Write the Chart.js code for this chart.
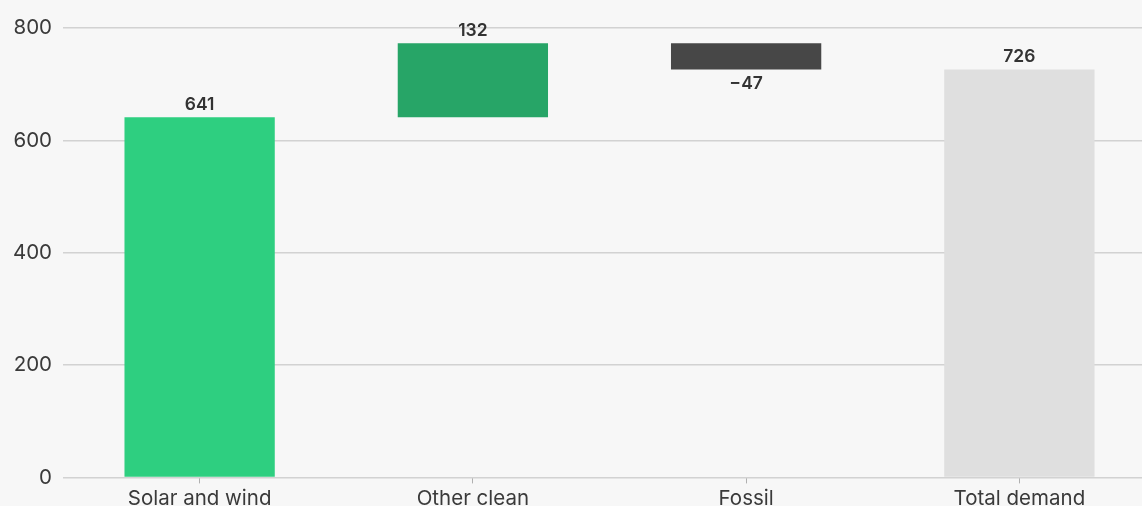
<!DOCTYPE html>
<html>
<head>
<meta charset="utf-8">
<script src="https://cdn.jsdelivr.net/npm/chart.js@4.4.1/dist/chart.umd.min.js"></script>
<style>
html,body{margin:0;padding:0;background:#f7f7f7;overflow:hidden;}
#wrap{position:absolute;left:0;top:0;width:1160px;height:514px;}
</style>
</head>
<body>
<div id="wrap"><canvas id="c" width="1160" height="514"></canvas></div>
<script>
const categories = ["Solar and wind", "Other clean", "Fossil", "Total demand"];
const changes = [641, 132, -47, 726];
const bases = [0, 641, 773, 0];
const barColors = ["#2ecf80", "#27a567", "#474747", "#dfdfdf"];
const yTicks = [0, 200, 400, 600, 800];

const ranges = changes.map((v, i) => [bases[i], bases[i] + v]);
const FONT = "Inter, 'Open Sans', sans-serif";

const labelPlugin = {
  id: 'valueLabels',
  afterDatasetsDraw(chart) {
    const ctx = chart.ctx;
    const meta = chart.getDatasetMeta(0);
    const y = chart.scales.y;
    ctx.save();
    ctx.font = "600 17.5px " + FONT;
    ctx.fillStyle = "#333333";
    ctx.textAlign = "center";
    meta.data.forEach((bar, i) => {
      const v = changes[i];
      const top = y.getPixelForValue(Math.max(...ranges[i]));
      const bottom = y.getPixelForValue(Math.min(...ranges[i]));
      const txt = v < 0 ? "\u2212" + Math.abs(v) : String(v);
      if (v >= 0) {
        ctx.textBaseline = "bottom";
        ctx.fillText(txt, bar.x, top - 4);
      } else {
        ctx.textBaseline = "top";
        ctx.fillText(txt, bar.x, bottom + 5);
      }
    });
    ctx.restore();
  }
};

new Chart(document.getElementById('c'), {
  type: 'bar',
  data: {
    labels: categories,
    datasets: [{
      data: ranges,
      backgroundColor: barColors,
      borderWidth: 0,
      borderSkipped: false,
      barPercentage: 0.55,
      categoryPercentage: 1.0
    }]
  },
  options: {
    responsive: false,
    animation: false,
    layout: { padding: { top: 28, right: 4, left: 0, bottom: 0 } },
    plugins: { legend: { display: false }, tooltip: { enabled: false } },
    scales: {
      x: {
        grid: { display: true, offset: false, drawOnChartArea: false, drawTicks: true, tickLength: 6, color: "#b0b0b0" },
        border: { display: false },
        ticks: { color: "#3a3a3a", font: { family: FONT, size: 20.5 }, padding: 3 }
      },
      y: {
        min: 0, max: 800,
        afterBuildTicks(scale) { scale.ticks = yTicks.map(v => ({ value: v })); },
        afterFit(scale) { scale.width = 63; },
        grid: { color: "#d2d2d2", lineWidth: 1.5, drawTicks: false },
        border: { display: false },
        ticks: { color: "#3a3a3a", font: { family: FONT, size: 20.5 }, padding: 11 }
      }
    }
  },
  plugins: [labelPlugin]
});
</script>
</body>
</html>
